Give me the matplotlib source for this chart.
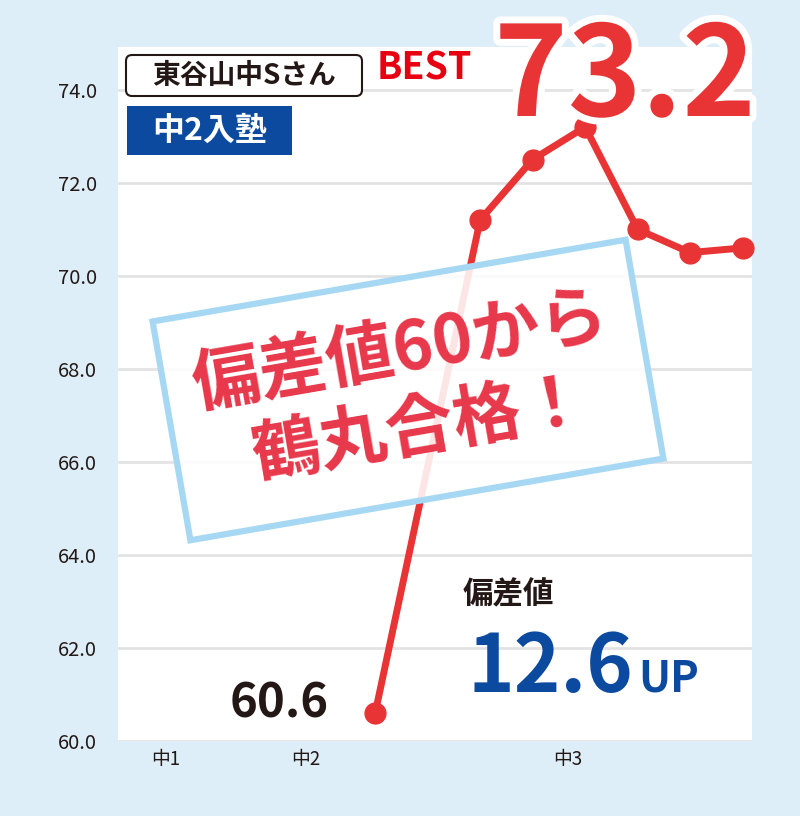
import matplotlib
matplotlib.use('Agg')
import matplotlib.pyplot as plt
from matplotlib.patches import Rectangle, FancyBboxPatch
from matplotlib.transforms import Affine2D, IdentityTransform
import matplotlib.patheffects as pe

W, H = 800, 816
JP = ['Noto Sans CJK JP', 'DejaVu Sans']
plt.rcParams['font.family'] = JP

# ---- data ----
x_pos = [0, 2, 3, 4, 5, 6, 7]
scores = [60.6, 71.2, 72.5, 73.2, 71.0, 70.5, 70.6]
y_ticks = [60, 62, 64, 66, 68, 70, 72, 74]
x_tick_pos = [-4.0, -1.33, 3.67]
x_tick_labels = ['中1', '中2', '中3']
student = '東谷山中Sさん'
join_label = '中2入塾'
best_label = 'BEST'
best_score = '73.2'
start_score = '60.6'
gain_label = '偏差値'
gain = '12.6'
headline = ['偏差値60から', '鶴丸合格！']

RED = '#e83434'
BLUE = '#0b4a9e'
DARK = '#231815'

fig = plt.figure(figsize=(W / 100, H / 100), dpi=100)
fig.patch.set_facecolor('#ddeef8')
ax = fig.add_axes([118 / W, 1 - 741 / H, (752 - 118) / W, (741 - 47) / H])
ax.set_facecolor('white')
ax.plot(x_pos, scores, color=RED, lw=5, marker='o', ms=15, zorder=3, clip_on=False)
ax.set_xlim(-4.9, 7.18)
ax.set_ylim(60, 74.92)
ax.set_yticks(y_ticks)
ax.set_yticklabels([f'{v:.1f}' for v in y_ticks], fontsize=14.5, color=DARK)
ax.set_xticks(x_tick_pos)
ax.set_xticklabels(x_tick_labels, fontsize=13.5, color=DARK)
ax.grid(axis='y', color='#e3e3e3', lw=2)
ax.set_axisbelow(True)
for s in ax.spines.values():
    s.set_visible(False)
ax.tick_params(axis='y', length=0, pad=15)
ax.tick_params(axis='x', length=0, pad=6)

T = IdentityTransform()

def px(x, y):
    return x, H - y

# student name box
fig.patches.append(FancyBboxPatch(px(126, 96), 236, 41,
                                  boxstyle='round,pad=0,rounding_size=6',
                                  fc='white', ec=DARK, lw=1.5, transform=T, zorder=5))
fig.text(*px(244, 76), student, transform=T, ha='center', va='center',
         fontsize=20, fontweight='bold', color=DARK, zorder=6)

# joined label
fig.patches.append(Rectangle(px(127, 155), 165, 49, fc=BLUE, ec='none', transform=T, zorder=5))
fig.text(*px(210, 131), join_label, transform=T, ha='center', va='center',
         fontsize=23, fontweight='bold', color='white', zorder=6)

# BEST
fig.text(*px(377, 80), best_label, transform=T, ha='left', va='baseline',
         fontsize=27, fontweight='bold', color='#e60012', zorder=6)
fig.text(*px(625, 116), best_score, transform=T, ha='center', va='baseline',
         fontsize=90, fontweight='bold', color=RED, zorder=7,
         path_effects=[pe.withStroke(linewidth=10, foreground='white')])

# start score
fig.text(*px(279, 718), start_score, transform=T, ha='center', va='baseline',
         fontsize=34, fontweight='bold', color=DARK, zorder=6)

# gain
fig.text(*px(463, 603), gain_label, transform=T, ha='left', va='baseline',
         fontsize=22, fontweight='bold', color=DARK, zorder=6)
fig.text(*px(468, 692), gain, transform=T, ha='left', va='baseline',
         fontsize=57, fontweight='bold', color=BLUE, zorder=6)
fig.text(*px(638, 692), 'UP', transform=T, ha='left', va='baseline',
         fontsize=31, fontweight='bold', color=BLUE, zorder=6)

# rotated callout
ang = 9.8
cx, cy = px(408, 390)
box_tr = Affine2D().rotate_deg(ang).translate(cx, cy)
fig.patches.append(Rectangle((-240, -111), 480, 222, fc=(1, 1, 1, 0.88),
                             ec='#a6d8f4', lw=4.5, transform=box_tr, zorder=4))
fig.text(*px(400, 352), headline[0], transform=T, ha='center', va='center',
         rotation=ang, rotation_mode='anchor', fontsize=49, fontweight='bold',
         color='#e8384b', zorder=6)
fig.text(*px(420, 430), headline[1], transform=T, ha='center', va='center',
         rotation=ang, rotation_mode='anchor', fontsize=49, fontweight='bold',
         color='#e8384b', zorder=6)

fig.savefig('out.png', dpi=100, facecolor=fig.get_facecolor())
